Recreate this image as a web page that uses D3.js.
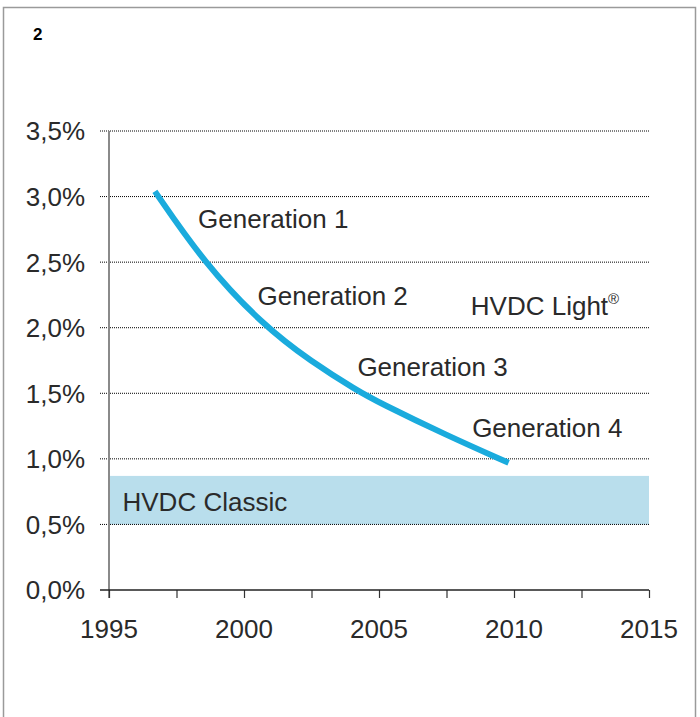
<!DOCTYPE html>
<html>
<head>
<meta charset="utf-8">
<script src="https://cdn.jsdelivr.net/npm/d3@7"></script>
<style>
  body { margin: 0; background: #fff; }
  text { font-family: "Liberation Sans", Arial, sans-serif; }
</style>
</head>
<body>
<div id="chart"></div>
<script>
// curve: [year, loss %]
const lossYears = [1996.7, 1998.5, 2000.7, 2002.5, 2004.2, 2005.0, 2007.5, 2009.8];
const lossValues = [3.04, 2.5, 2.02, 1.74, 1.52, 1.43, 1.18, 0.97];

// HVDC Classic band
const classicBand = [0.5, 0.87];

const yTicks = [0, 0.5, 1, 1.5, 2, 2.5, 3, 3.5];
const xTicks = [1995, 2000, 2005, 2010, 2015];
const xMinorTicks = [1995, 1997.5, 2000, 2002.5, 2005, 2007.5, 2010, 2012.5, 2015];

// labels [text, year, value]
const labels = [
    ["Generation 1", 1998.3, 2.76],
    ["Generation 2", 2000.5, 2.17],
    ["Generation 3", 2004.2, 1.63],
    ["Generation 4", 2008.45, 1.17],
    ["HVDC Classic", 1995.5, 0.6]
];

const W = 700, H = 717;
const margin = {top: 131, right: 51, bottom: 127, left: 109};
const width = W - margin.left - margin.right,
      height = H - margin.top - margin.bottom;

const svg = d3.select("#chart").append("svg")
    .attr("width", W)
    .attr("height", H);

// outer frame
svg.append("rect")
    .attr("x", 3.5).attr("y", 7.5)
    .attr("width", 692).attr("height", 720)
    .attr("fill", "none")
    .attr("stroke", "#9a9a9a")
    .attr("stroke-width", 1.5);

svg.append("text")
    .attr("x", 33).attr("y", 40)
    .attr("font-size", 17).attr("font-weight", "bold")
    .attr("fill", "#000")
    .text("2");

const g = svg.append("g")
    .attr("transform", "translate(" + margin.left + "," + margin.top + ")");

const x = d3.scaleLinear().domain([1995, 2015]).range([0, width]);
const y = d3.scaleLinear().domain([0, 3.5]).range([height, 0]);

// band
g.append("rect")
    .attr("x", x(1995))
    .attr("y", y(classicBand[1]))
    .attr("width", x(2015) - x(1995))
    .attr("height", y(classicBand[0]) - y(classicBand[1]))
    .attr("fill", "#b9deec");

// dotted gridlines
g.selectAll(".grid")
    .data(yTicks.filter(d => d > 0))
    .enter().append("line")
    .attr("x1", -9).attr("x2", width)
    .attr("y1", d => y(d)).attr("y2", d => y(d))
    .attr("stroke", "#000")
    .attr("stroke-width", 1)
    .attr("stroke-dasharray", "1,1");

// y axis line
g.append("line")
    .attr("x1", 0).attr("x2", 0)
    .attr("y1", 0).attr("y2", height + 8)
    .attr("stroke", "#8a8a8a")
    .attr("stroke-width", 2);

// x axis
const xAxis = g.append("g")
    .attr("transform", "translate(0," + height + ")")
    .call(d3.axisBottom(x).tickValues(xMinorTicks).tickSize(8).tickFormat(""));
xAxis.select(".domain").remove();
xAxis.selectAll(".tick line").attr("stroke", "#333").attr("stroke-width", 1.2);
g.append("line")
    .attr("x1", -9).attr("x2", width)
    .attr("y1", height).attr("y2", height)
    .attr("stroke", "#222").attr("stroke-width", 1.5);

g.selectAll(".xlab")
    .data(xTicks)
    .enter().append("text")
    .attr("x", d => x(d))
    .attr("y", height + 48)
    .attr("text-anchor", "middle")
    .attr("font-size", 26)
    .attr("fill", "#2a2a2a")
    .text(d => d);

// y labels
const fmt = d => d3.format(".1f")(d).replace(".", ",") + "%";
g.selectAll(".ylab")
    .data(yTicks)
    .enter().append("text")
    .attr("x", -24)
    .attr("y", d => y(d))
    .attr("dy", "0.36em")
    .attr("text-anchor", "end")
    .attr("font-size", 26)
    .attr("fill", "#2a2a2a")
    .text(fmt);

// loss curve
const pts = lossYears.map((yr, i) => [yr, lossValues[i]]);
g.append("path")
    .datum(pts)
    .attr("d", d3.line().x(d => x(d[0])).y(d => y(d[1])).curve(d3.curveBasis))
    .attr("fill", "none")
    .attr("stroke", "#1aabdd")
    .attr("stroke-width", 6);

// annotations
g.selectAll(".lab")
    .data(labels)
    .enter().append("text")
    .attr("x", d => x(d[1]))
    .attr("y", d => y(d[2]))
    .attr("font-size", 26)
    .attr("fill", "#2a2a2a")
    .text(d => d[0]);

const light = g.append("text")
    .attr("x", x(2008.4))
    .attr("y", y(2.1))
    .attr("font-size", 26)
    .attr("fill", "#2a2a2a")
    .text("HVDC Light");
light.append("tspan")
    .attr("font-size", 15)
    .attr("dy", "-0.7em")
    .text("®");
</script>
</body>
</html>
